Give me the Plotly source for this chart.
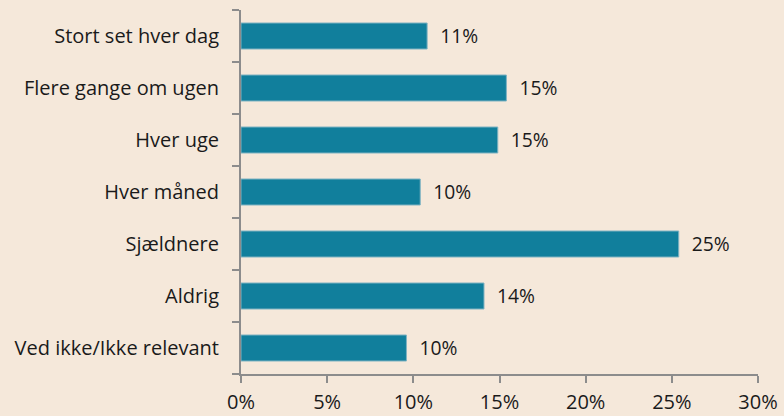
import plotly.graph_objects as go

categories = ["Stort set hver dag", "Flere gange om ugen", "Hver uge", "Hver måned",
              "Sjældnere", "Aldrig", "Ved ikke/Ikke relevant"]
values = [10.8, 15.4, 14.9, 10.4, 25.4, 14.1, 9.6]
labels = ["11%", "15%", "15%", "10%", "25%", "14%", "10%"]
x_ticks = [0, 5, 10, 15, 20, 25, 30]
x_tick_labels = ["0%", "5%", "10%", "15%", "20%", "25%", "30%"]

BG = "#F5E8DA"
BAR = "#117F9C"
AXIS = "#8C8C8C"
FONT = "Open Sans, Noto Sans, sans-serif"
FS = 20

fig = go.Figure(go.Bar(
    x=values, y=categories, orientation="h",
    marker=dict(color=BAR, line=dict(color="#7FB3C2", width=1)),
    width=0.5,
    text=["  " + t for t in labels], textposition="outside",
    textfont=dict(size=FS, color="#1a1a1a", family=FONT),
    cliponaxis=False,
))

fig.update_layout(
    width=784, height=416,
    paper_bgcolor=BG, plot_bgcolor=BG,
    margin=dict(l=241, r=26, t=10, b=42),
    font=dict(family=FONT, size=FS, color="#1a1a1a"),
    showlegend=False,
    bargap=0.5,
)
fig.update_xaxes(
    range=[0, 30], tickvals=x_ticks, ticktext=x_tick_labels,
    showgrid=False, zeroline=False, automargin=False,
    showline=True, linecolor=AXIS, linewidth=2,
    ticks="outside", ticklen=7, tickwidth=2, tickcolor=AXIS,
    ticklabelstandoff=2,
    tickfont=dict(size=FS, color="#1a1a1a"),
)
fig.update_yaxes(
    categoryorder="array", categoryarray=categories[::-1],
    showgrid=False, zeroline=False, automargin=False,
    showline=True, linecolor=AXIS, linewidth=2,
    ticks="outside", ticklen=7, tickwidth=2, tickcolor=AXIS,
    tickson="boundaries", ticklabelstandoff=16,
    tickfont=dict(size=FS, color="#1a1a1a"),
)

fig.write_html("out.html", config={"displayModeBar": False},
               post_script="document.body.style.margin='0';document.body.style.padding='0';")
